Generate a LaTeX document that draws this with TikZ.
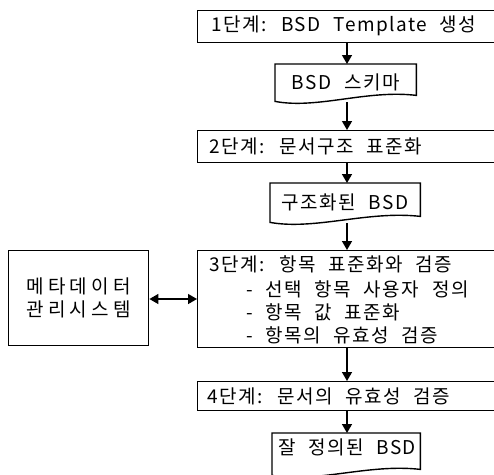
\documentclass[tikz,border=0pt]{standalone}
\usepackage{fontspec}
\newfontfamily\kr[LetterSpace=8,WordSpace=2.2]{Noto Sans CJK KR}
\newfontfamily\krwide[LetterSpace=22]{Noto Sans CJK KR}
\usetikzlibrary{arrows.meta,calc}
\tikzset{
  every node/.style={font=\kr\fontsize{19}{22}\selectfont, inner sep=0pt},
  stepbox/.style={draw, line width=1.4pt, rectangle, minimum width=320pt, anchor=north west},
  docnode/.style={rectangle, anchor=north west},
  flow/.style={line width=1.4pt, -{Triangle[length=9pt,width=10pt]}},
  both/.style={line width=1.4pt, {Triangle[length=9pt,width=10pt]}-{Triangle[length=9pt,width=10pt]}},
  wave/.style={draw, line width=1.4pt}
}
\newcommand{\docshape}[2]{% name, width
  \draw[wave] (#1.north west) -- (#1.north east) -- ([yshift=6pt]#1.south east)
    .. controls ([xshift=-0.35*#2, yshift=12pt]#1.south east) and ([xshift=0.3*#2, yshift=-8pt]#1.south west) .. (#1.south west) -- cycle;}
\begin{document}
\begin{tikzpicture}[x=1pt,y=-1pt]
\useasboundingbox (0,0) rectangle (494,474);
\clip (0,0) rectangle (494,474);
% step boxes
\node[stepbox, minimum height=32pt] (s1) at (197,10) {};
\node[anchor=west] at (211,26) {1단계: BSD Template 생성};
\node[stepbox, minimum height=32pt] (s2) at (197,130) {};
\node[anchor=west] at (209,146) {2단계: 문서구조 표준화};
\node[stepbox, minimum height=97pt] (s3) at (197,250) {};
\node[anchor=west] at (209,264) {3단계: 항목 표준화와 검증};
\node[anchor=west] at (246,289) {- 선택 항목 사용자 정의};
\node[anchor=west] at (246,312) {- 항목 값 표준화};
\node[anchor=west] at (246,335) {- 항목의 유효성 검증};
\node[stepbox, minimum height=29pt] (s4) at (197,381) {};
\node[anchor=west] at (207,396) {4단계: 문서의 유효성 검증};
% metadata box
\node[draw, line width=1.4pt, minimum width=140pt, minimum height=95pt, anchor=north west, align=center, font=\krwide\fontsize{19}{22}\selectfont] (meta) at (8,250) {메타데이터\\[1pt]관리시스템};
% documents
\node[docnode, minimum width=141pt, minimum height=37pt] (d1) at (275,64) {BSD 스키마};
\docshape{d1}{141pt}
\node[docnode, minimum width=150pt, minimum height=39pt] (d2) at (270,183) {구조화된 BSD};
\docshape{d2}{150pt}
\node[docnode, minimum width=148pt, minimum height=42pt] (d4) at (272,433) {};
\node at (347,447) {잘 정의된 BSD};
\docshape{d4}{148pt}
% connectors
\coordinate (x) at (347,0);
\draw[flow] (s1.south -| x) -- (d1.north -| x);
\draw[flow] ([yshift=-1pt]d1.south -| x) -- (s2.north -| x);
\draw[flow] (s2.south -| x) -- (d2.north -| x);
\draw[flow] ([yshift=-1pt]d2.south -| x) -- (s3.north -| x);
\draw[flow] (s3.south -| x) -- (s4.north -| x);
\draw[flow] (s4.south -| x) -- (d4.north -| x);
\draw[both] (meta.east |- 0,299) -- (s3.west |- 0,299);
\end{tikzpicture}
\end{document}
